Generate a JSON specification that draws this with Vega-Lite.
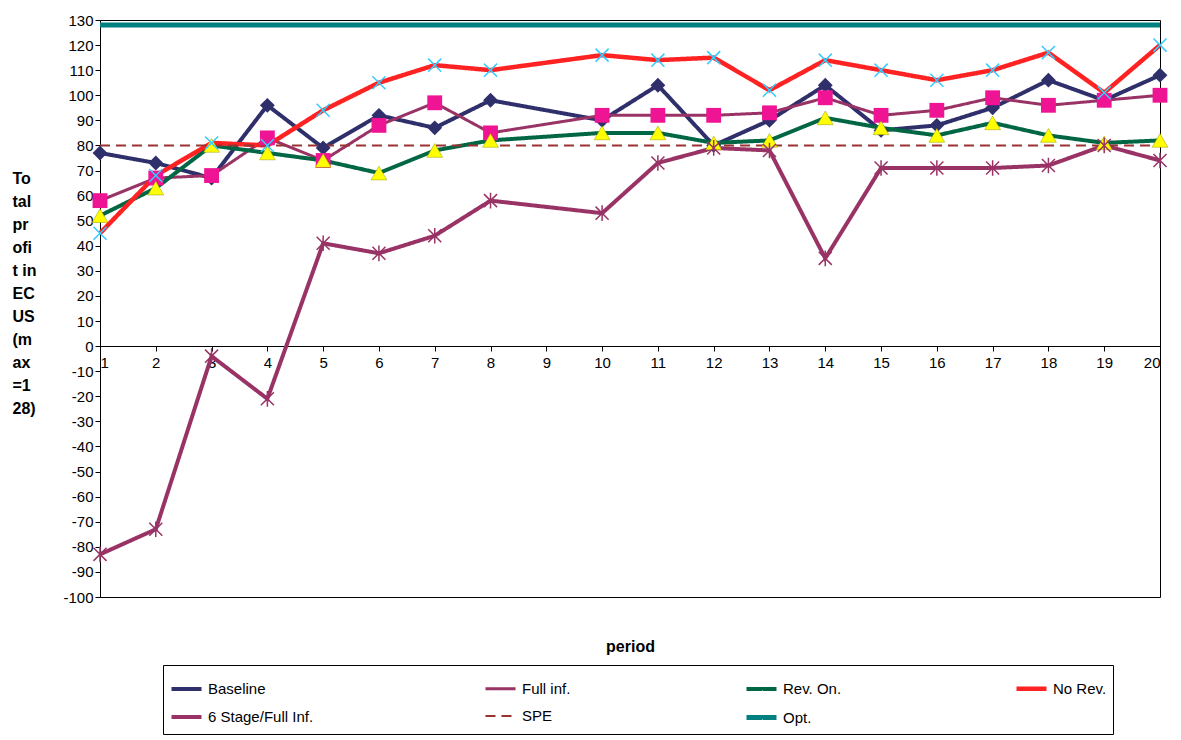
{
"$schema":"https://vega.github.io/schema/vega-lite/v6.json",
"width":1060,"height":577,
"autosize":{"type":"none"},
"padding":{"left":100,"top":20,"right":21,"bottom":143},
"background":"white",
"config":{"view":{"stroke":"black","strokeWidth":1},"font":"Liberation Sans","axis":{"grid":false,"labelFontSize":15,"labelColor":"black","domainColor":"black","tickColor":"black"}},
"data":{"values":[
{"p":1,"s":"Baseline","v":77},{"p":2,"s":"Baseline","v":73},{"p":3,"s":"Baseline","v":67},{"p":4,"s":"Baseline","v":96},{"p":5,"s":"Baseline","v":79},{"p":6,"s":"Baseline","v":92},{"p":7,"s":"Baseline","v":87},{"p":8,"s":"Baseline","v":98},{"p":10,"s":"Baseline","v":90},{"p":11,"s":"Baseline","v":104},{"p":12,"s":"Baseline","v":80},{"p":13,"s":"Baseline","v":90},{"p":14,"s":"Baseline","v":104},{"p":15,"s":"Baseline","v":86},{"p":16,"s":"Baseline","v":88},{"p":17,"s":"Baseline","v":95},{"p":18,"s":"Baseline","v":106},{"p":19,"s":"Baseline","v":98},{"p":20,"s":"Baseline","v":108},
{"p":1,"s":"Full inf.","v":58},{"p":2,"s":"Full inf.","v":67},{"p":3,"s":"Full inf.","v":68},{"p":4,"s":"Full inf.","v":83},{"p":5,"s":"Full inf.","v":74},{"p":6,"s":"Full inf.","v":88},{"p":7,"s":"Full inf.","v":97},{"p":8,"s":"Full inf.","v":85},{"p":10,"s":"Full inf.","v":92},{"p":11,"s":"Full inf.","v":92},{"p":12,"s":"Full inf.","v":92},{"p":13,"s":"Full inf.","v":93},{"p":14,"s":"Full inf.","v":99},{"p":15,"s":"Full inf.","v":92},{"p":16,"s":"Full inf.","v":94},{"p":17,"s":"Full inf.","v":99},{"p":18,"s":"Full inf.","v":96},{"p":19,"s":"Full inf.","v":98},{"p":20,"s":"Full inf.","v":100},
{"p":1,"s":"Rev. On.","v":52},{"p":2,"s":"Rev. On.","v":63},{"p":3,"s":"Rev. On.","v":80},{"p":4,"s":"Rev. On.","v":77},{"p":5,"s":"Rev. On.","v":74},{"p":6,"s":"Rev. On.","v":69},{"p":7,"s":"Rev. On.","v":78},{"p":8,"s":"Rev. On.","v":82},{"p":10,"s":"Rev. On.","v":85},{"p":11,"s":"Rev. On.","v":85},{"p":12,"s":"Rev. On.","v":81},{"p":13,"s":"Rev. On.","v":82},{"p":14,"s":"Rev. On.","v":91},{"p":15,"s":"Rev. On.","v":87},{"p":16,"s":"Rev. On.","v":84},{"p":17,"s":"Rev. On.","v":89},{"p":18,"s":"Rev. On.","v":84},{"p":19,"s":"Rev. On.","v":81},{"p":20,"s":"Rev. On.","v":82},
{"p":1,"s":"No Rev.","v":45},{"p":2,"s":"No Rev.","v":68},{"p":3,"s":"No Rev.","v":81},{"p":4,"s":"No Rev.","v":80},{"p":5,"s":"No Rev.","v":94},{"p":6,"s":"No Rev.","v":105},{"p":7,"s":"No Rev.","v":112},{"p":8,"s":"No Rev.","v":110},{"p":10,"s":"No Rev.","v":116},{"p":11,"s":"No Rev.","v":114},{"p":12,"s":"No Rev.","v":115},{"p":13,"s":"No Rev.","v":102},{"p":14,"s":"No Rev.","v":114},{"p":15,"s":"No Rev.","v":110},{"p":16,"s":"No Rev.","v":106},{"p":17,"s":"No Rev.","v":110},{"p":18,"s":"No Rev.","v":117},{"p":19,"s":"No Rev.","v":101},{"p":20,"s":"No Rev.","v":120},
{"p":1,"s":"6 Stage/Full Inf.","v":-83},{"p":2,"s":"6 Stage/Full Inf.","v":-73},{"p":3,"s":"6 Stage/Full Inf.","v":-4},{"p":4,"s":"6 Stage/Full Inf.","v":-21},{"p":5,"s":"6 Stage/Full Inf.","v":41},{"p":6,"s":"6 Stage/Full Inf.","v":37},{"p":7,"s":"6 Stage/Full Inf.","v":44},{"p":8,"s":"6 Stage/Full Inf.","v":58},{"p":10,"s":"6 Stage/Full Inf.","v":53},{"p":11,"s":"6 Stage/Full Inf.","v":73},{"p":12,"s":"6 Stage/Full Inf.","v":79},{"p":13,"s":"6 Stage/Full Inf.","v":78},{"p":14,"s":"6 Stage/Full Inf.","v":35},{"p":15,"s":"6 Stage/Full Inf.","v":71},{"p":16,"s":"6 Stage/Full Inf.","v":71},{"p":17,"s":"6 Stage/Full Inf.","v":71},{"p":18,"s":"6 Stage/Full Inf.","v":72},{"p":19,"s":"6 Stage/Full Inf.","v":80},{"p":20,"s":"6 Stage/Full Inf.","v":74},
{"p":1,"s":"SPE","v":80},{"p":20,"s":"SPE","v":80},
{"p":1,"s":"Opt.","v":128},{"p":20,"s":"Opt.","v":128}
]},
"encoding":{
"x":{"field":"p","type":"quantitative","scale":{"domain":[1,20],"nice":false,"zero":false},
 "axis":{"values":[1,2,3,4,5,6,7,8,9,10,11,12,13,14,15,16,17,18,19,20],"offset":-251,"tickSize":5,"labelPadding":4,"domain":true,"title":"period","titleFontSize":16,"titleFontWeight":"bold","titleY":292}},
"y":{"field":"v","type":"quantitative","scale":{"domain":[-100,130],"nice":false},
 "axis":{"values":[-100,-90,-80,-70,-60,-50,-40,-30,-20,-10,0,10,20,30,40,50,60,70,80,90,100,110,120,130],"labelExpr":"replace(datum.label,'\u2212','-')","title":["To","tal","pr","ofi","t in","EC","US","(m","ax","=1","28)"],"titleAngle":0,"titleFontSize":16,"titleFontWeight":"bold","titleX":-88,"titleY":150,"titleAlign":"left","titleBaseline":"top","titleLineHeight":23}}
},
"layer":[
{"mark":{"type":"line"},
 "encoding":{
 "color":{"field":"s","type":"nominal","scale":{"domain":["Baseline","Full inf.","Rev. On.","No Rev.","6 Stage/Full Inf.","SPE","Opt."],"range":["#2E2F6B","#993366","#006644","#FF2222","#993366","#993333","#008080"]},
  "legend":{"orient":"none","legendX":63,"legendY":645,"direction":"horizontal","columns":4,"title":null,"symbolType":"stroke","symbolStrokeWidth":4,"symbolSize":900,"labelFontSize":15,"labelColor":"black","columnPadding":165,"rowPadding":2,"strokeColor":"black","padding":6,"labelLimit":300,"fillColor":"white"}},
 "strokeDash":{"field":"s","type":"nominal","scale":{"domain":["Baseline","Full inf.","Rev. On.","No Rev.","6 Stage/Full Inf.","SPE","Opt."],"range":[[1,0],[1,0],[1,0],[1,0],[1,0],[10,6],[1,0]]},"legend":null},
 "strokeWidth":{"field":"s","type":"nominal","scale":{"type":"ordinal","domain":["Baseline","Full inf.","Rev. On.","No Rev.","6 Stage/Full Inf.","SPE","Opt."],"range":[4,3,4,4.5,4,2,5]},"legend":null}
 }},
{"transform":[{"filter":"datum.s=='Baseline'"}],"mark":{"type":"point","shape":"diamond","filled":true,"color":"#2E2F6B","size":220,"opacity":1},"encoding":{}},
{"transform":[{"filter":"datum.s=='Full inf.'"}],"mark":{"type":"point","shape":"square","filled":true,"color":"#EE1493","size":220,"opacity":1},"encoding":{}},
{"transform":[{"filter":"datum.s=='Rev. On.'"}],"mark":{"type":"point","shape":"triangle-up","filled":true,"color":"#FFFF00","stroke":"#999900","strokeWidth":0.5,"size":250,"opacity":1},"encoding":{}},
{"transform":[{"filter":"datum.s=='No Rev.'"}],"mark":{"type":"point","shape":"M-1,-1L1,1M-1,1L1,-1","filled":false,"color":"#33CCFF","strokeWidth":1.5,"size":170,"opacity":1},"encoding":{}},
{"transform":[{"filter":"datum.s=='6 Stage/Full Inf.'"}],"mark":{"type":"point","shape":"M-1,-1L1,1M-1,1L1,-1M0,-1.2L0,1.2","filled":false,"color":"#993366","strokeWidth":1.5,"size":170,"opacity":1},"encoding":{}}
]
}
